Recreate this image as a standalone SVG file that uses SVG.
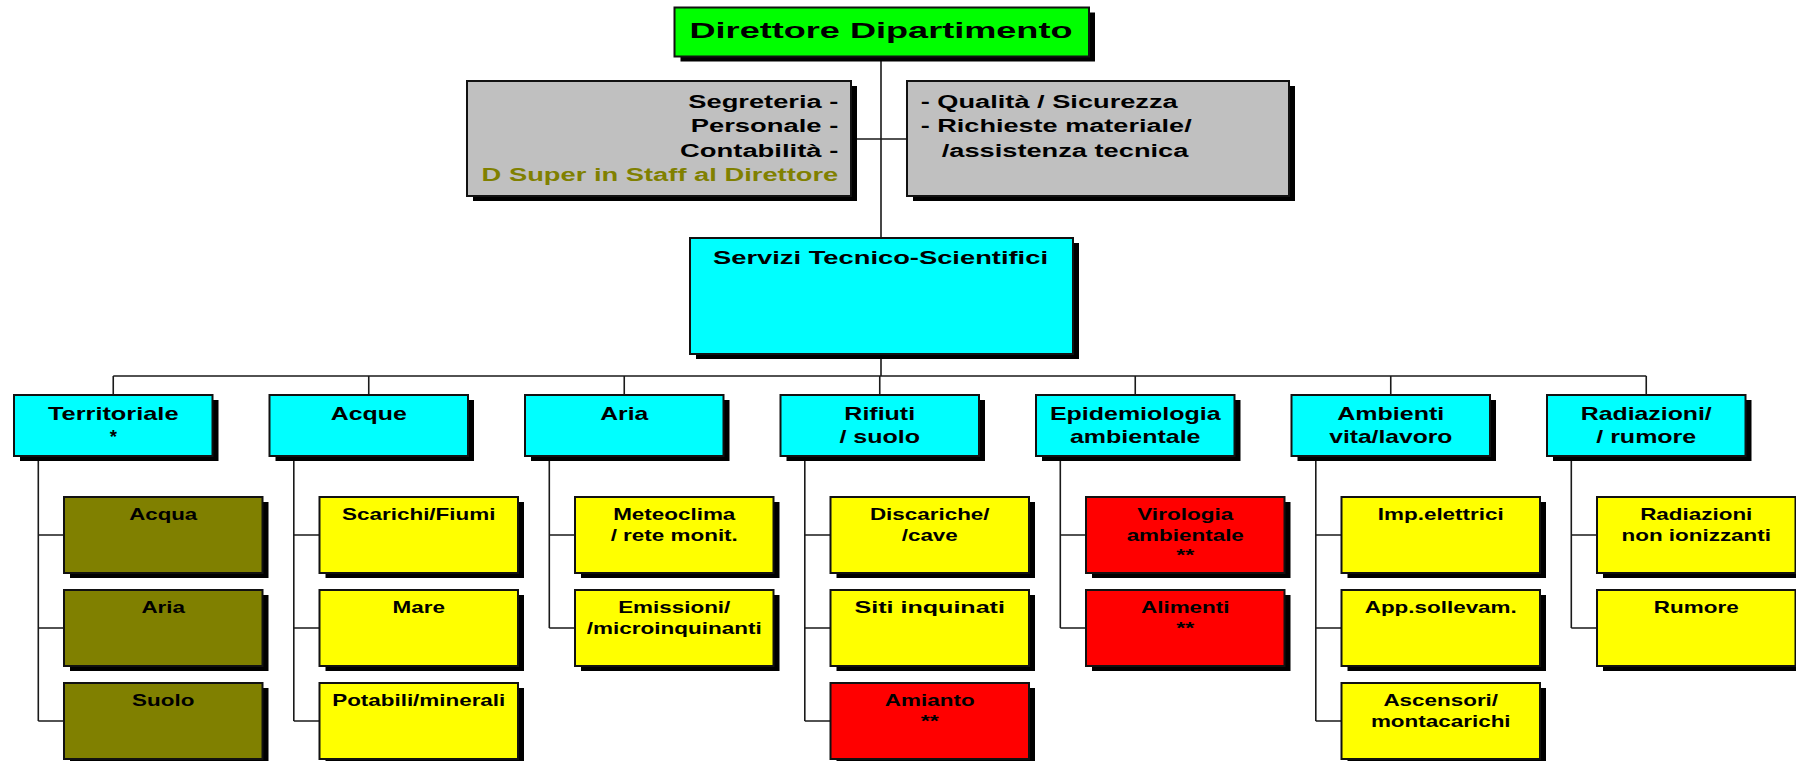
<svg xmlns="http://www.w3.org/2000/svg" width="1796" height="761" viewBox="0 0 1796 761">
<style>
text{font-family:"Liberation Sans",Arial,sans-serif;font-weight:bold;fill:#000}
.box{stroke:#111;stroke-width:2}
.sh{fill:#000}
.green{fill:#00FF00}.gray{fill:#C0C0C0}.cyan{fill:#00FFFF}.yellow{fill:#FFFF00}.olive{fill:#808000}.red{fill:#FF0000}
.t1{font-size:18.5px;text-anchor:middle}
.t2{font-size:17px;text-anchor:middle}
.tg{font-size:17.5px}
.oltext{fill:#808000}
.conn{fill:none;stroke:#1a1a1a;stroke-width:1.6}
</style>
<g id="connectors" class="conn">
<path d="M881,56 V238 M852,139 H907 M881,354 V376 M113.25,376 H1646.25"/>
<path d="M113.25,376 V395 M368.75,376 V395 M624.25,376 V395 M879.75,376 V395 M1135.25,376 V395 M1390.75,376 V395 M1646.25,376 V395"/>
<path d="M38.3,456 V721 M38.3,535 H64 M38.3,628 H64 M38.3,721 H64"/>
<path d="M293.8,456 V721 M293.8,535 H319.5 M293.8,628 H319.5 M293.8,721 H319.5"/>
<path d="M549.3,456 V628 M549.3,535 H575 M549.3,628 H575"/>
<path d="M804.8,456 V721 M804.8,535 H830.5 M804.8,628 H830.5 M804.8,721 H830.5"/>
<path d="M1060.3,456 V628 M1060.3,535 H1086 M1060.3,628 H1086"/>
<path d="M1315.8,456 V721 M1315.8,535 H1341.5 M1315.8,628 H1341.5 M1315.8,721 H1341.5"/>
<path d="M1571.3,456 V628 M1571.3,535 H1597 M1571.3,628 H1597"/>
</g>
<g id="direttore">
<rect class="sh" x="680.5" y="12.5" width="414.5" height="49"/>
<rect class="box green" x="674.5" y="7.5" width="414.5" height="49"/>
<text x="881" y="38.3" style="font-size:22px;text-anchor:middle" textLength="383" lengthAdjust="spacingAndGlyphs">Direttore Dipartimento</text>
</g>
<g id="segreteria">
<rect class="sh" x="473" y="86" width="384" height="115"/>
<rect class="box gray" x="467" y="81" width="384" height="115"/>
<text class="tg" x="688.3" y="107.7" textLength="150" lengthAdjust="spacingAndGlyphs">Segreteria -</text>
<text class="tg" x="690.7" y="131.7" textLength="147.6" lengthAdjust="spacingAndGlyphs">Personale -</text>
<text class="tg" x="680" y="156.7" textLength="158.3" lengthAdjust="spacingAndGlyphs">Contabilità -</text>
<text class="tg oltext" x="481.6" y="180.7" textLength="356.7" lengthAdjust="spacingAndGlyphs">D Super in Staff al Direttore</text>
</g>
<g id="qualita">
<rect class="sh" x="913" y="86" width="382" height="115"/>
<rect class="box gray" x="907" y="81" width="382" height="115"/>
<text class="tg" x="920.7" y="107.7" textLength="257" lengthAdjust="spacingAndGlyphs">- Qualità / Sicurezza</text>
<text class="tg" x="920.7" y="131.7" textLength="271" lengthAdjust="spacingAndGlyphs">- Richieste materiale/</text>
<text class="tg" x="941.7" y="156.7" textLength="246.7" lengthAdjust="spacingAndGlyphs">/assistenza tecnica</text>
</g>
<g id="servizi">
<rect class="sh" x="696" y="243" width="383" height="116"/>
<rect class="box cyan" x="690" y="238" width="383" height="116"/>
<text x="880.5" y="264" style="font-size:18.6px;text-anchor:middle" textLength="335" lengthAdjust="spacingAndGlyphs">Servizi Tecnico-Scientifici</text>
</g>
<g id="territoriale">
<rect class="sh" x="20" y="400" width="198.5" height="61"/>
<rect class="box cyan" x="14" y="395" width="198.5" height="61"/>
<text class="t1" x="113.25" y="420" textLength="130.6" lengthAdjust="spacingAndGlyphs">Territoriale</text>
<text class="t1" x="113.25" y="443">*</text>
</g>
<g id="acque">
<rect class="sh" x="275.5" y="400" width="198.5" height="61"/>
<rect class="box cyan" x="269.5" y="395" width="198.5" height="61"/>
<text class="t1" x="368.75" y="420" textLength="76" lengthAdjust="spacingAndGlyphs">Acque</text>
</g>
<g id="aria">
<rect class="sh" x="531" y="400" width="198.5" height="61"/>
<rect class="box cyan" x="525" y="395" width="198.5" height="61"/>
<text class="t1" x="624.25" y="420" textLength="48" lengthAdjust="spacingAndGlyphs">Aria</text>
</g>
<g id="rifiuti">
<rect class="sh" x="786.5" y="400" width="198.5" height="61"/>
<rect class="box cyan" x="780.5" y="395" width="198.5" height="61"/>
<text class="t1" x="879.75" y="420" textLength="70.8" lengthAdjust="spacingAndGlyphs">Rifiuti</text>
<text class="t1" x="879.75" y="443" textLength="80.6" lengthAdjust="spacingAndGlyphs">/ suolo</text>
</g>
<g id="epidemiologia">
<rect class="sh" x="1042" y="400" width="198.5" height="61"/>
<rect class="box cyan" x="1036" y="395" width="198.5" height="61"/>
<text class="t1" x="1135.25" y="420" textLength="170.6" lengthAdjust="spacingAndGlyphs">Epidemiologia</text>
<text class="t1" x="1135.25" y="443" textLength="130.6" lengthAdjust="spacingAndGlyphs">ambientale</text>
</g>
<g id="ambienti">
<rect class="sh" x="1297.5" y="400" width="198.5" height="61"/>
<rect class="box cyan" x="1291.5" y="395" width="198.5" height="61"/>
<text class="t1" x="1390.75" y="420" textLength="107" lengthAdjust="spacingAndGlyphs">Ambienti</text>
<text class="t1" x="1390.75" y="443" textLength="123" lengthAdjust="spacingAndGlyphs">vita/lavoro</text>
</g>
<g id="radiazioni">
<rect class="sh" x="1553" y="400" width="198.5" height="61"/>
<rect class="box cyan" x="1547" y="395" width="198.5" height="61"/>
<text class="t1" x="1646.25" y="420" textLength="131" lengthAdjust="spacingAndGlyphs">Radiazioni/</text>
<text class="t1" x="1646.25" y="443" textLength="100" lengthAdjust="spacingAndGlyphs">/ rumore</text>
</g>
<g id="terr-acqua">
<rect class="sh" x="70" y="502" width="198.5" height="76"/>
<rect class="box olive" x="64" y="497" width="198.5" height="76"/>
<text class="t2" x="163.25" y="520" textLength="68" lengthAdjust="spacingAndGlyphs">Acqua</text>
</g>
<g id="terr-aria">
<rect class="sh" x="70" y="595" width="198.5" height="76"/>
<rect class="box olive" x="64" y="590" width="198.5" height="76"/>
<text class="t2" x="163.25" y="613" textLength="43.6" lengthAdjust="spacingAndGlyphs">Aria</text>
</g>
<g id="terr-suolo">
<rect class="sh" x="70" y="688" width="198.5" height="76"/>
<rect class="box olive" x="64" y="683" width="198.5" height="76"/>
<text class="t2" x="163.25" y="706" textLength="62.3" lengthAdjust="spacingAndGlyphs">Suolo</text>
</g>
<g id="acque-scarichi">
<rect class="sh" x="325.5" y="502" width="198.5" height="76"/>
<rect class="box yellow" x="319.5" y="497" width="198.5" height="76"/>
<text class="t2" x="418.75" y="520" textLength="153.4" lengthAdjust="spacingAndGlyphs">Scarichi/Fiumi</text>
</g>
<g id="acque-mare">
<rect class="sh" x="325.5" y="595" width="198.5" height="76"/>
<rect class="box yellow" x="319.5" y="590" width="198.5" height="76"/>
<text class="t2" x="418.75" y="613" textLength="52.4" lengthAdjust="spacingAndGlyphs">Mare</text>
</g>
<g id="acque-potabili">
<rect class="sh" x="325.5" y="688" width="198.5" height="76"/>
<rect class="box yellow" x="319.5" y="683" width="198.5" height="76"/>
<text class="t2" x="418.75" y="706" textLength="173.1" lengthAdjust="spacingAndGlyphs">Potabili/minerali</text>
</g>
<g id="aria-meteoclima">
<rect class="sh" x="581" y="502" width="198.5" height="76"/>
<rect class="box yellow" x="575" y="497" width="198.5" height="76"/>
<text class="t2" x="674.25" y="520" textLength="122.2" lengthAdjust="spacingAndGlyphs">Meteoclima</text>
<text class="t2" x="674.25" y="540.7" textLength="127.2" lengthAdjust="spacingAndGlyphs">/ rete monit.</text>
</g>
<g id="aria-emissioni">
<rect class="sh" x="581" y="595" width="198.5" height="76"/>
<rect class="box yellow" x="575" y="590" width="198.5" height="76"/>
<text class="t2" x="674.25" y="613" textLength="112.2" lengthAdjust="spacingAndGlyphs">Emissioni/</text>
<text class="t2" x="674.25" y="633.7" textLength="175" lengthAdjust="spacingAndGlyphs">/microinquinanti</text>
</g>
<g id="rifiuti-discariche">
<rect class="sh" x="836.5" y="502" width="198.5" height="76"/>
<rect class="box yellow" x="830.5" y="497" width="198.5" height="76"/>
<text class="t2" x="929.75" y="520" textLength="119.7" lengthAdjust="spacingAndGlyphs">Discariche/</text>
<text class="t2" x="929.75" y="540.7" textLength="56.1" lengthAdjust="spacingAndGlyphs">/cave</text>
</g>
<g id="rifiuti-siti">
<rect class="sh" x="836.5" y="595" width="198.5" height="76"/>
<rect class="box yellow" x="830.5" y="590" width="198.5" height="76"/>
<text class="t2" x="929.75" y="613" textLength="150.4" lengthAdjust="spacingAndGlyphs">Siti inquinati</text>
</g>
<g id="rifiuti-amianto">
<rect class="sh" x="836.5" y="688" width="198.5" height="76"/>
<rect class="box red" x="830.5" y="683" width="198.5" height="76"/>
<text class="t2" x="929.75" y="706" textLength="89.8" lengthAdjust="spacingAndGlyphs">Amianto</text>
<text class="t2" x="929.75" y="726.7" textLength="18" lengthAdjust="spacingAndGlyphs">**</text>
</g>
<g id="epi-virologia">
<rect class="sh" x="1092" y="502" width="198.5" height="76"/>
<rect class="box red" x="1086" y="497" width="198.5" height="76"/>
<text class="t2" x="1185.25" y="520" textLength="96" lengthAdjust="spacingAndGlyphs">Virologia</text>
<text class="t2" x="1185.25" y="540.7" textLength="117.2" lengthAdjust="spacingAndGlyphs">ambientale</text>
<text class="t2" x="1185.25" y="561.4" textLength="18" lengthAdjust="spacingAndGlyphs">**</text>
</g>
<g id="epi-alimenti">
<rect class="sh" x="1092" y="595" width="198.5" height="76"/>
<rect class="box red" x="1086" y="590" width="198.5" height="76"/>
<text class="t2" x="1185.25" y="613" textLength="88.5" lengthAdjust="spacingAndGlyphs">Alimenti</text>
<text class="t2" x="1185.25" y="633.7" textLength="18" lengthAdjust="spacingAndGlyphs">**</text>
</g>
<g id="amb-impianti">
<rect class="sh" x="1347.5" y="502" width="198.5" height="76"/>
<rect class="box yellow" x="1341.5" y="497" width="198.5" height="76"/>
<text class="t2" x="1440.75" y="520" textLength="126" lengthAdjust="spacingAndGlyphs">Imp.elettrici</text>
</g>
<g id="amb-sollevamento">
<rect class="sh" x="1347.5" y="595" width="198.5" height="76"/>
<rect class="box yellow" x="1341.5" y="590" width="198.5" height="76"/>
<text class="t2" x="1440.75" y="613" textLength="152.1" lengthAdjust="spacingAndGlyphs">App.sollevam.</text>
</g>
<g id="amb-ascensori">
<rect class="sh" x="1347.5" y="688" width="198.5" height="76"/>
<rect class="box yellow" x="1341.5" y="683" width="198.5" height="76"/>
<text class="t2" x="1440.75" y="706" textLength="114.7" lengthAdjust="spacingAndGlyphs">Ascensori/</text>
<text class="t2" x="1440.75" y="726.7" textLength="139.7" lengthAdjust="spacingAndGlyphs">montacarichi</text>
</g>
<g id="rad-nonionizzanti">
<rect class="sh" x="1603" y="502" width="198.5" height="76"/>
<rect class="box yellow" x="1597" y="497" width="198.5" height="76"/>
<text class="t2" x="1696.25" y="520" textLength="112.2" lengthAdjust="spacingAndGlyphs">Radiazioni</text>
<text class="t2" x="1696.25" y="540.7" textLength="149.4" lengthAdjust="spacingAndGlyphs">non ionizzanti</text>
</g>
<g id="rad-rumore">
<rect class="sh" x="1603" y="595" width="198.5" height="76"/>
<rect class="box yellow" x="1597" y="590" width="198.5" height="76"/>
<text class="t2" x="1696.25" y="613" textLength="84.8" lengthAdjust="spacingAndGlyphs">Rumore</text>
</g>
</svg>
